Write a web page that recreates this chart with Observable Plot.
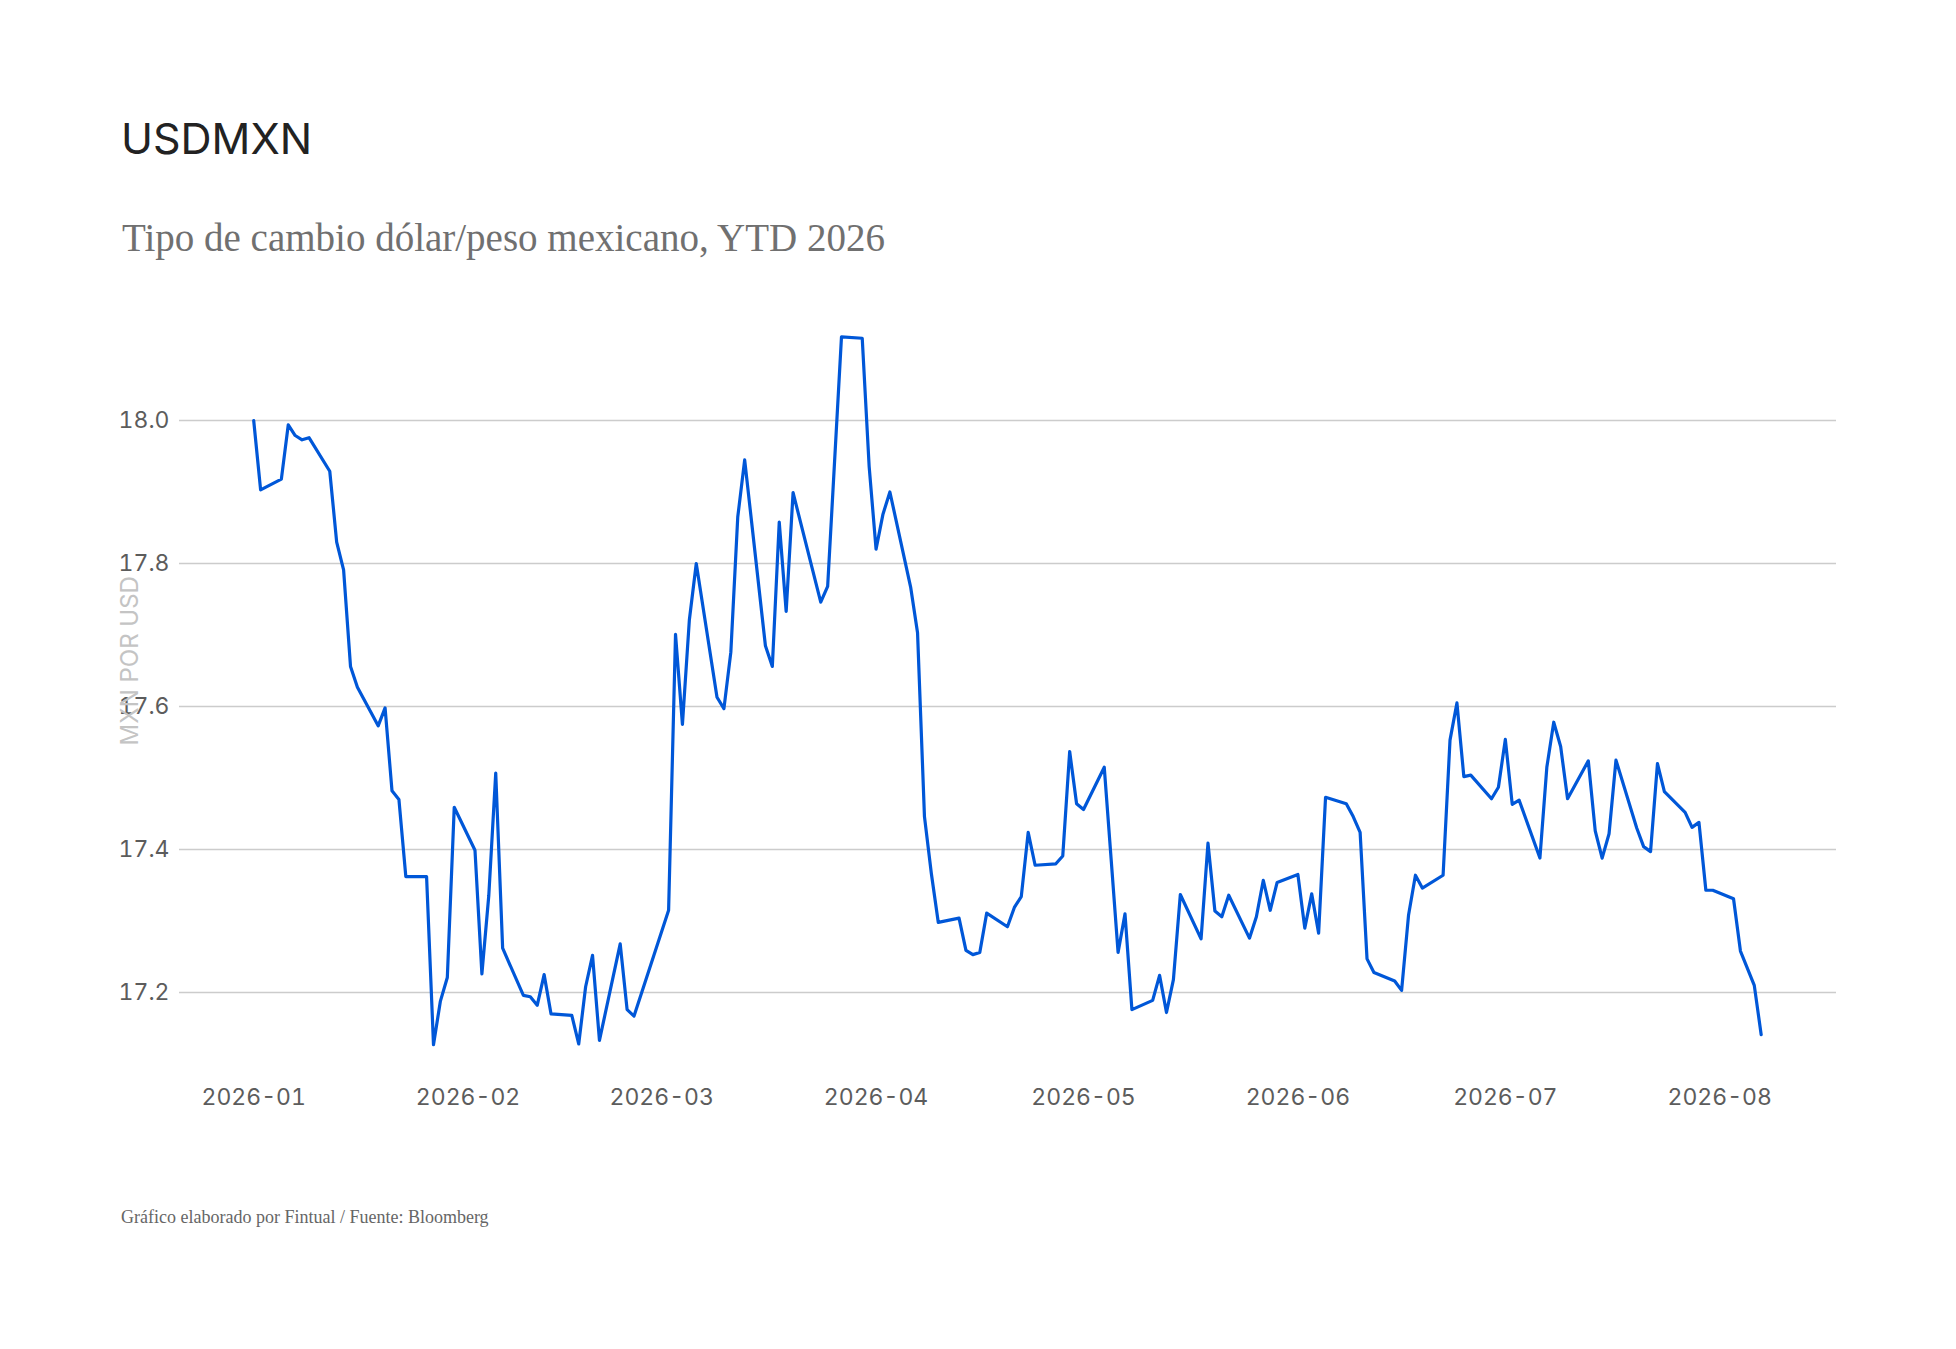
<!DOCTYPE html>
<html>
<head>
<meta charset="utf-8">
<script src="https://cdn.jsdelivr.net/npm/d3@7"></script>
<script src="https://cdn.jsdelivr.net/npm/@observablehq/plot@0.6"></script>
<style>
  html, body { margin: 0; padding: 0; background: #ffffff; }
  #page { position: relative; width: 1956px; height: 1349px; background: #ffffff; overflow: hidden; }
  #title { position: absolute; left: 121px; top: 117px; font-family: Inter, "Noto Sans", sans-serif; font-size: 43px; line-height: 1; font-weight: 400; color: #222222; white-space: nowrap; }
  #subtitle { position: absolute; left: 122px; top: 218px; font-family: "Liberation Serif", "DejaVu Serif", serif; font-size: 39px; line-height: 1; color: #707070; white-space: nowrap; }
  #chart { position: absolute; left: 0; top: 300px; }
  #caption { position: absolute; left: 121px; top: 1208px; font-family: "Liberation Serif", "DejaVu Serif", serif; font-size: 18px; line-height: 1; color: #666666; white-space: nowrap; }
</style>
</head>
<body>
<div id="page">
  <div id="title">USDMXN</div>
  <div id="subtitle">Tipo de cambio dólar/peso mexicano, YTD 2026</div>
  <div id="chart"></div>
  <div id="caption">Gráfico elaborado por Fintual / Fuente: Bloomberg</div>
</div>
<script>
// ---- Data ----
const dates = [
  "2026-01-01","2026-01-02","2026-01-05","2026-01-06","2026-01-07","2026-01-08","2026-01-09",
  "2026-01-12","2026-01-13","2026-01-14","2026-01-15","2026-01-16",
  "2026-01-19","2026-01-20","2026-01-21","2026-01-22","2026-01-23",
  "2026-01-26","2026-01-27","2026-01-28","2026-01-29","2026-01-30",
  "2026-02-02","2026-02-03","2026-02-04","2026-02-05","2026-02-06",
  "2026-02-09","2026-02-10","2026-02-11","2026-02-12","2026-02-13",
  "2026-02-16","2026-02-17","2026-02-18","2026-02-19","2026-02-20",
  "2026-02-23","2026-02-24","2026-02-25",
  "2026-03-02","2026-03-03","2026-03-04","2026-03-05","2026-03-06",
  "2026-03-09","2026-03-10","2026-03-11","2026-03-12","2026-03-13",
  "2026-03-16","2026-03-17","2026-03-18","2026-03-19","2026-03-20",
  "2026-03-24","2026-03-25","2026-03-27",
  "2026-03-30","2026-03-31","2026-04-01","2026-04-02","2026-04-03",
  "2026-04-06","2026-04-07","2026-04-08","2026-04-09","2026-04-10",
  "2026-04-13","2026-04-14","2026-04-15","2026-04-16","2026-04-17",
  "2026-04-20","2026-04-21","2026-04-22","2026-04-23","2026-04-24",
  "2026-04-27","2026-04-28","2026-04-29","2026-04-30","2026-05-01",
  "2026-05-04","2026-05-05","2026-05-06","2026-05-07","2026-05-08",
  "2026-05-11","2026-05-12","2026-05-13","2026-05-14","2026-05-15",
  "2026-05-18","2026-05-19","2026-05-20","2026-05-21","2026-05-22",
  "2026-05-25","2026-05-26","2026-05-27","2026-05-28","2026-05-29",
  "2026-06-01","2026-06-02","2026-06-03","2026-06-04","2026-06-05",
  "2026-06-08","2026-06-09","2026-06-10","2026-06-11","2026-06-12",
  "2026-06-15","2026-06-16","2026-06-17","2026-06-18","2026-06-19",
  "2026-06-22","2026-06-23","2026-06-24","2026-06-25","2026-06-26",
  "2026-06-29","2026-06-30","2026-07-01","2026-07-02","2026-07-03",
  "2026-07-06","2026-07-07","2026-07-08","2026-07-09","2026-07-10",
  "2026-07-13","2026-07-14","2026-07-15","2026-07-16","2026-07-17",
  "2026-07-20","2026-07-21","2026-07-22","2026-07-23","2026-07-24",
  "2026-07-27","2026-07-28","2026-07-29","2026-07-30","2026-07-31",
  "2026-08-03","2026-08-04","2026-08-06","2026-08-07"
];
const usdmxn = [
  18.000,17.903,17.918,17.994,17.979,17.973,17.976,
  17.929,17.830,17.791,17.656,17.627,
  17.573,17.598,17.482,17.470,17.362,
  17.362,17.127,17.188,17.221,17.459,
  17.399,17.226,17.336,17.507,17.262,
  17.196,17.194,17.182,17.225,17.170,
  17.168,17.128,17.208,17.252,17.133,
  17.268,17.176,17.167,
  17.315,17.701,17.575,17.721,17.800,
  17.613,17.597,17.676,17.865,17.945,
  17.685,17.656,17.858,17.733,17.899,
  17.746,17.768,18.117,
  18.115,17.936,17.820,17.869,17.900,
  17.767,17.703,17.446,17.366,17.298,
  17.304,17.259,17.253,17.256,17.311,
  17.292,17.319,17.334,17.424,17.378,
  17.380,17.391,17.537,17.464,17.456,
  17.515,17.386,17.256,17.310,17.176,
  17.189,17.224,17.172,17.218,17.337,
  17.275,17.409,17.314,17.306,17.336,
  17.276,17.306,17.357,17.315,17.354,
  17.365,17.290,17.338,17.283,17.473,
  17.464,17.446,17.424,17.247,17.228,
  17.216,17.203,17.308,17.364,17.346,
  17.364,17.553,17.605,17.502,17.504,
  17.471,17.487,17.554,17.463,17.469,
  17.388,17.515,17.578,17.544,17.471,
  17.524,17.426,17.388,17.422,17.525,
  17.430,17.404,17.397,17.520,17.481,
  17.452,17.431,17.438,17.343,17.343,
  17.331,17.258,17.210,17.141
];
const xTickLabels = ["2026-01","2026-02","2026-03","2026-04","2026-05","2026-06","2026-07","2026-08"];
const yTicks = [17.2, 17.4, 17.6, 17.8, 18.0];
const yAxisLabel = "MXN POR USD";
const yAxisLabelAt = [17.664];

// ---- Build table ----
const rows = dates.map((d, i) => ({date: new Date(d + "T00:00:00Z"), value: usdmxn[i]}));
const xTicks = xTickLabels.map(m => new Date(m + "-01T00:00:00Z"));

const W = 1956, H = 850;
const chart = Plot.plot({
  width: W,
  height: H,
  marginLeft: 179,
  marginRight: 120,
  marginTop: 0,
  marginBottom: 90,
  style: {background: "transparent", fontFamily: "Inter, 'Noto Sans', sans-serif", overflow: "visible"},
  x: {
    type: "utc",
    domain: [xTicks[0], xTicks[xTicks.length - 1]],
    range: [253.2, 1719.2]
  },
  y: {
    domain: [17.2, 18.0],
    range: [692, 120]
  },
  marks: [
    Plot.gridY(yTicks, {stroke: "#cccccc", strokeOpacity: 1, strokeWidth: 1.5}),
    Plot.axisY(yTicks, {
      tickSize: 0, tickPadding: 10, tickFormat: d3.format(".1f"),
      fontSize: 23, fill: "#5c5c5c", label: null
    }),
    Plot.axisX(xTicks, {
      tickSize: 0, tickPadding: 28, tickFormat: d3.utcFormat("%Y-%m"),
      fontSize: 23, fill: "#5c5c5c", label: null
    }),
    Plot.text([yAxisLabel], {
      frameAnchor: "left",
      y: yAxisLabelAt,
      dx: -49,
      rotate: -90,
      textAnchor: "middle",
      fontSize: 24,
      fill: "#c4c4c4"
    }),
    Plot.line(rows, {
      x: "date", y: "value",
      stroke: "#0057d8", strokeWidth: 3.2, strokeLinejoin: "round", curve: "linear"
    })
  ]
});
document.getElementById("chart").appendChild(chart);
</script>
</body>
</html>
